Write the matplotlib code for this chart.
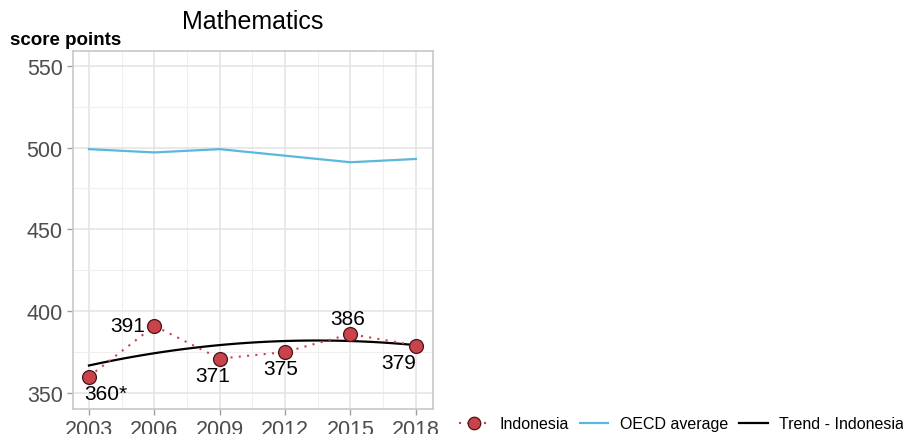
import numpy as np
import matplotlib.pyplot as plt
from matplotlib.lines import Line2D

plt.rcParams['font.family'] = ['Liberation Sans', 'DejaVu Sans']

# PISA mathematics scores
years = [2003, 2006, 2009, 2012, 2015, 2018]
indonesia = [360, 391, 371, 375, 386, 379]
labels = ['360*', '391', '371', '375', '386', '379']
oecd = [499, 497, 499, 495, 491, 493]
trend = [367, 374, 379, 382, 382, 379]

red = '#c8434b'
blue = '#5bb8dc'

fig = plt.figure(figsize=(9.04, 4.35), dpi=100)
ax = fig.add_axes([0.0808, 0.0575, 0.398, 0.823])

ax.plot(years, oecd, color=blue, lw=1.6, zorder=3)

# smooth trend curve (quadratic through the trend values)
coef = np.polyfit(years, trend, 2)
xs = np.linspace(years[0], years[-1], 100)
ax.plot(xs, np.polyval(coef, xs), color='black', lw=1.6, zorder=4)

ax.plot(years, indonesia, color=red, lw=1.5, ls=(0, (1, 3)), zorder=5)
ax.plot(years, indonesia, 'o', ms=10, mfc=red, mec='#4a1518', mew=0.9, zorder=6)

# value labels: offsets in points
offs = [(12, -12), (-19, 0), (-5, -12.5), (-3, -12), (-2, 11), (-12, -12)]
for x, y, t, (dx, dy) in zip(years, indonesia, labels, offs):
    ax.annotate(t, (x, y), xytext=(dx, dy), textcoords='offset points',
                ha='center', va='center', fontsize=15, color='black', zorder=7)

ax.set_xlim(2002.27, 2018.78)
ax.set_ylim(340.2, 559)
ax.set_xticks(years)
ax.set_xticks([2004.5, 2007.5, 2010.5, 2013.5, 2016.5], minor=True)
ax.set_yticks([350, 400, 450, 500, 550])
ax.set_yticks([375, 425, 475, 525], minor=True)
ax.grid(which='major', color='#e3e3e3', lw=1.1)
ax.grid(which='minor', color='#efefef', lw=0.8)
ax.set_axisbelow(True)
ax.tick_params(axis='both', which='major', labelsize=15.5, labelcolor='#4d4d4d',
               color='#a0a0a0', length=4, width=1)
ax.tick_params(axis='both', which='minor', length=0)
for s in ax.spines.values():
    s.set_color('#c8c8c8')
    s.set_linewidth(1.2)

fig.text(0.28, 0.95, 'Mathematics', ha='center', va='center', fontsize=18)
fig.text(0.011, 0.908, 'score points', ha='left', va='center', fontsize=13.5,
         fontweight='bold')

handles = [
    Line2D([], [], color=red, lw=1.5, ls=(0, (1, 3)), marker='o', ms=9,
           mfc=red, mec='#4a1518', mew=0.9),
    Line2D([], [], color=blue, lw=1.6),
    Line2D([], [], color='black', lw=1.6),
]
fig.legend(handles, ['Indonesia', 'OECD average', 'Trend - Indonesia'],
           loc='center left', bbox_to_anchor=(0.508, 0.023), ncol=3, frameon=False,
           fontsize=11.5, handlelength=1.8, handletextpad=0.7, columnspacing=0.7,
           borderpad=0, borderaxespad=0)

fig.savefig('out.png', dpi=100)
